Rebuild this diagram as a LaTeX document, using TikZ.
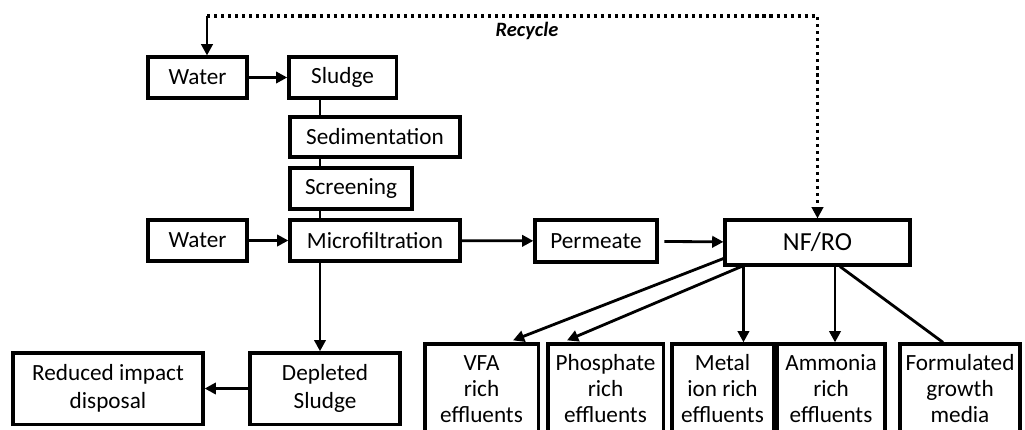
\documentclass[tikz,border=0pt]{standalone}
\usepackage{fontspec}
\setmainfont{Carlito}
\usetikzlibrary{arrows.meta,positioning}

\begin{document}
\begin{tikzpicture}[
  x=0.025cm, y=-0.025cm,
  box/.style={draw, line width=2.3pt, minimum height=1.02cm, inner sep=2pt,
              align=center, font=\fontsize{16.5}{19.5}\selectfont},
  product/.style={box, minimum height=2.25cm, font=\fontsize{16.5}{18.5}\selectfont},
  flow/.style={line width=2pt, -{Triangle[length=8pt,width=8pt]}},
  link/.style={line width=2pt},
  recycle/.style={line width=2.3pt, dash pattern=on 2.2pt off 2.8pt,
                  -{Triangle[length=8pt,width=8pt]}},
]
  \useasboundingbox (0,0) rectangle (1025,429);

  % Pre-treatment chain
  \node[box, minimum width=2.48cm] (water1) at (197.5, 77.5) {Water};
  \node[box, minimum width=2.68cm] (sludge) at (342.5, 77.5) {Sludge};
  \node[box, minimum width=4.25cm, minimum height=1cm] (sedim) at (375, 137) {Sedimentation};
  \node[box, minimum width=3.05cm] (screen) at (351, 188.5) {Screening};
  \node[box, minimum width=4.25cm] (micro) at (375, 240.5) {Microfiltration};
  \node[box, minimum width=2.48cm] (water2) at (197.5, 240.5) {Water};

  % Membrane stage
  \node[box, minimum width=3.05cm, minimum height=1.05cm] (permeate) at (596, 241) {Permeate};
  \node[box, minimum width=4.62cm, minimum height=1.12cm,
        font=\fontsize{18.5}{21}\selectfont] (nfro) at (817.5, 242.5) {NF/RO};

  % Solids route
  \node[box, minimum width=3.75cm, minimum height=1.78cm] (depleted) at (325, 388.5) {Depleted\\Sludge};
  \node[box, minimum width=4.75cm, minimum height=1.78cm] (reduced) at (108, 388.5) {Reduced impact\\disposal};

  % Products
  \node[product, minimum width=2.83cm] (vfa) at (481.5, 389) {VFA\\rich\\effluents};
  \node[product, minimum width=2.88cm] (phos) at (605.5, 389) {Phosphate\\rich\\effluents};
  \node[product, minimum width=2.53cm] (metal) at (722.5, 389) {Metal\\ion rich\\effluents};
  \node[product, minimum width=2.7cm] (ammonia) at (831, 389) {Ammonia\\rich\\effluents};
  \node[product, minimum width=3cm] (growth) at (960, 389) {Formulated\\growth\\media};

  % Connectors
  \coordinate (chain) at (320, 0);
  \draw[flow] (water1) -- (sludge);
  \draw[link] (sludge.south -| chain) -- (sedim.north -| chain);
  \draw[link] (sedim.south -| chain) -- (screen.north -| chain);
  \draw[link] (screen.south -| chain) -- (micro.north -| chain);
  \draw[flow] (water2) -- (micro);
  \draw[flow] (micro.south -| chain) -- (depleted.north -| chain);
  \draw[flow] (depleted) -- (reduced);
  \draw[flow] (micro) -- (permeate);
  \draw[flow, shorten <=4pt] (permeate) -- (nfro);

  \draw[flow] ([shift={(0,-8)}]nfro.south west) -- ([shift={(31.5,-2)}]vfa.north);
  \draw[flow] ([shift={(18,0)}]nfro.south west) -- ([shift={(-38.5,-2)}]phos.north);
  \draw[flow] ([shift={(20,0)}]nfro.south west) coordinate (m1) -- (m1 |- metal.north);
  \draw[flow] ([shift={(17.5,0)}]nfro.south) coordinate (a1) -- (a1 |- ammonia.north);
  \draw[link] ([shift={(22.5,0)}]nfro.south) -- ([shift={(-17,0)}]growth.north);

  % Recycle loop
  \coordinate (rcl) at (207, 16);
  \coordinate (rcr) at (817.5, 16);
  \draw[flow] (rcl) -- (rcl |- water1.north);
  \draw[recycle] (rcl) -- (rcr) -- (nfro.north);
  \node[font=\fontsize{14.5}{16}\selectfont\bfseries\itshape] (rlabel) at (527, 31) {Recycle};
\end{tikzpicture}
\end{document}
